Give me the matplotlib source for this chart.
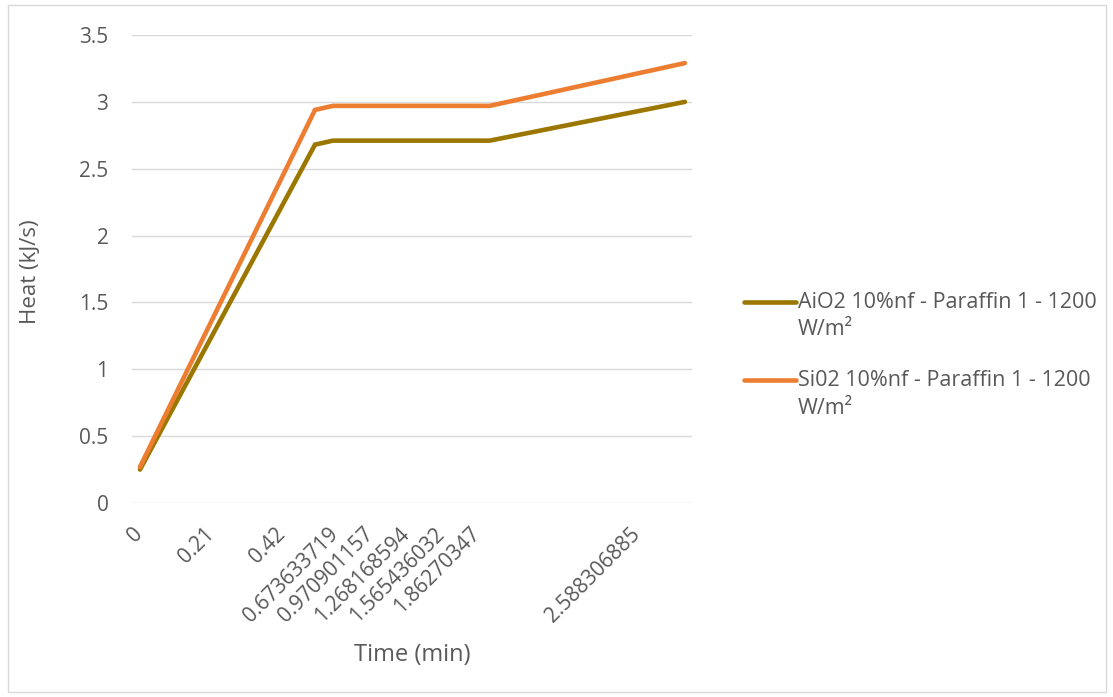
import matplotlib
matplotlib.use("Agg")
import matplotlib.pyplot as plt
from matplotlib.patches import Rectangle
from matplotlib.lines import Line2D

plt.rcParams['font.family'] = ['Open Sans', 'DejaVu Sans']

# category positions (axis is a category axis with uneven labels)
x_pos = [0, 9.86, 10.87, 19.7, 30.7]
aio2 = [0.25, 2.68, 2.71, 2.71, 3.00]
sio2 = [0.27, 2.94, 2.97, 2.97, 3.29]

tick_pos = [0, 4, 8, 11, 13, 15, 17, 19, 28]
tick_labels = ['0', '0.21', '0.42', '0.673633719', '0.970901157', '1.268168594',
               '1.565436032', '1.86270347', '2.588306885']

series_names = [('AiO2 10%nf - Paraffin 1 - 1200', 'W/m²'),
                ('Si02 10%nf - Paraffin 1 - 1200', 'W/m²')]
series_colors = ['#9C7700', '#ED7D31']

grey = '#595959'
W, H = 1113, 697

fig = plt.figure(figsize=(W / 100, H / 100), dpi=100)
fig.patches.append(Rectangle((8 / W, 5 / H), 1098 / W, 687 / H,
                             transform=fig.transFigure, fill=False,
                             edgecolor='#D9D9D9', linewidth=1))

ax = fig.add_axes([132 / W, 1 - 503 / H, 560 / W, 468 / H])

for ys, c in zip([aio2, sio2], series_colors):
    ax.plot(x_pos, ys, color=c, linewidth=3.3, solid_capstyle='round',
            solid_joinstyle='miter')

ax.set_xlim(-0.45, 31.1)
ax.set_ylim(0, 3.5)
ax.set_yticks([0, 0.5, 1, 1.5, 2, 2.5, 3, 3.5])
ax.set_yticklabels(['0', '0.5', '1', '1.5', '2', '2.5', '3', '3.5'])
ax.set_xticks(tick_pos)
ax.set_xticklabels(tick_labels, rotation=45, ha='right', va='center',
                   rotation_mode='anchor')

ax.grid(axis='y', color='#D9D9D9', linewidth=1)
ax.set_axisbelow(True)
for s in ax.spines.values():
    s.set_visible(False)
ax.tick_params(axis='both', length=0, labelsize=15, colors=grey)
ax.tick_params(axis='y', pad=17)
ax.tick_params(axis='x', pad=20)

ax.set_ylabel('Heat (kJ/s)', fontsize=16, color=grey)
ax.yaxis.label.set_verticalalignment('center')
ax.yaxis.set_label_coords((31 - 132) / 560, (503 - 272) / 468)
ax.set_xlabel('Time (min)', fontsize=17, color=grey)
ax.xaxis.label.set_verticalalignment('center')
ax.xaxis.set_label_coords(0.5, (503 - 655) / 468)

# legend drawn by hand so the key sits on the first text line (Excel style)
for i, ((l1, l2), c) in enumerate(zip(series_names, series_colors)):
    y1 = 302 + 78 * i
    fig.add_artist(Line2D([744 / W, 796 / W], [1 - y1 / H, 1 - y1 / H],
                          color=c, linewidth=3.3, solid_capstyle='round',
                          transform=fig.transFigure))
    fig.text(798 / W, 1 - y1 / H, l1, fontsize=15.5, color=grey, va='center')
    fig.text(798 / W, 1 - (y1 + 28) / H, l2, fontsize=15.5, color=grey, va='center')

plt.savefig('out.png', dpi=100)
